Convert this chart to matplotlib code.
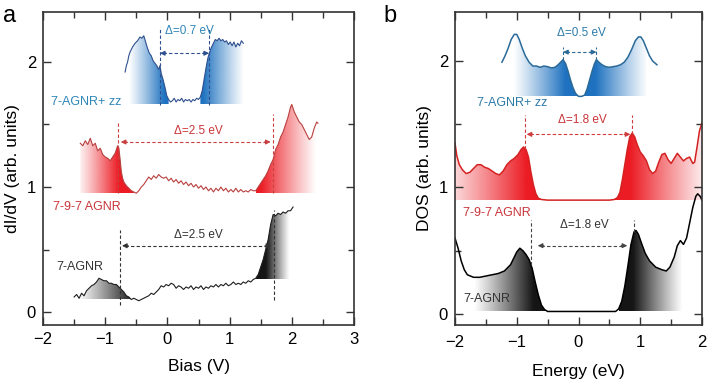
import numpy as np
import matplotlib
matplotlib.use("Agg")
import matplotlib.pyplot as plt
from matplotlib.patches import Polygon
from matplotlib.colors import to_rgb
from matplotlib.ticker import MultipleLocator

plt.rcParams['font.family'] = ['Liberation Sans', 'DejaVu Sans']

# ---------------- Panel a: experimental dI/dV ----------------
a_black_x = [-1.50, -1.46, -1.42, -1.38, -1.34, -1.30, -1.26, -1.22, -1.18, -1.14, -1.10, -1.06, -1.02, -0.98,
             -0.94, -0.90, -0.86, -0.82, -0.78, -0.74, -0.70, -0.66, -0.62, -0.58, -0.54, -0.50, -0.46, -0.42,
             -0.38, -0.34, -0.30, -0.26, -0.22, -0.18, -0.14, -0.10, -0.06, -0.02, 0.02, 0.06, 0.10, 0.14,
             0.18, 0.22, 0.26, 0.30, 0.34, 0.38, 0.42, 0.46, 0.50, 0.54, 0.58, 0.62, 0.66, 0.70, 0.74, 0.78,
             0.82, 0.86, 0.90, 0.94, 0.98, 1.02, 1.06, 1.10, 1.14, 1.18, 1.22, 1.26, 1.30, 1.34, 1.38, 1.42,
             1.46, 1.50, 1.54, 1.58, 1.62, 1.66, 1.70, 1.74, 1.78, 1.82, 1.86, 1.90, 1.94, 1.98, 2.02]
a_black_y = [0.12, 0.14, 0.11, 0.15, 0.13, 0.17, 0.19, 0.21, 0.22, 0.24, 0.27, 0.26, 0.25, 0.25,
             0.23, 0.23, 0.22, 0.22, 0.20, 0.18, 0.16, 0.13, 0.12, 0.10, 0.11, 0.10, 0.09, 0.10,
             0.11, 0.12, 0.13, 0.15, 0.14, 0.16, 0.18, 0.21, 0.20, 0.22, 0.21, 0.23, 0.22, 0.19,
             0.21, 0.20, 0.18, 0.20, 0.19, 0.21, 0.18, 0.20, 0.19, 0.21, 0.18, 0.20, 0.19, 0.21, 0.20, 0.22,
             0.20, 0.22, 0.21, 0.23, 0.21, 0.22, 0.24, 0.22, 0.23, 0.22, 0.24, 0.23, 0.25, 0.24, 0.26, 0.27,
             0.30, 0.36, 0.42, 0.50, 0.58, 0.70, 0.78, 0.77, 0.79, 0.78, 0.80, 0.79, 0.81, 0.81, 0.84]

a_red_x = [-1.40, -1.36, -1.32, -1.28, -1.24, -1.20, -1.16, -1.12, -1.08, -1.04, -1.00, -0.96, -0.92, -0.88,
           -0.84, -0.80, -0.78, -0.76, -0.74, -0.72, -0.70, -0.66, -0.62, -0.58, -0.54, -0.50, -0.46, -0.42,
           -0.38, -0.34, -0.30, -0.26, -0.22, -0.18, -0.14, -0.10, -0.06, -0.02, 0.02, 0.06, 0.10, 0.14,
           0.18, 0.22, 0.26, 0.30, 0.34, 0.38, 0.42, 0.46, 0.50, 0.54, 0.58, 0.62, 0.66, 0.70, 0.74, 0.78,
           0.82, 0.86, 0.90, 0.94, 0.98, 1.02, 1.06, 1.10, 1.14, 1.18, 1.22, 1.26, 1.30, 1.34, 1.38, 1.42,
           1.46, 1.50, 1.54, 1.58, 1.62, 1.66, 1.70, 1.74, 1.78, 1.82, 1.86, 1.90, 1.94, 1.98, 2.00, 2.04,
           2.08, 2.12, 2.16, 2.20, 2.24, 2.28, 2.32, 2.36, 2.40, 2.42]
a_red_y = [1.35, 1.33, 1.37, 1.34, 1.39, 1.33, 1.35, 1.29, 1.31, 1.26, 1.24, 1.23, 1.21, 1.24,
           1.27, 1.33, 1.31, 1.22, 1.12, 1.07, 1.04, 1.01, 0.99, 0.97, 0.96, 0.95, 0.97, 1.00,
           1.02, 1.05, 1.08, 1.06, 1.09, 1.07, 1.10, 1.08, 1.07, 1.08, 1.05, 1.07, 1.04, 1.06,
           1.03, 1.05, 1.02, 1.04, 1.01, 1.03, 1.00, 1.02, 0.99, 1.01, 0.98, 1.00, 0.97, 0.99, 0.96, 0.99,
           0.97, 1.00, 0.97, 0.99, 0.96, 0.98, 0.96, 0.99, 0.96, 0.98, 0.96, 0.97, 0.96, 0.98, 0.97, 0.97,
           1.00, 1.03, 1.06, 1.09, 1.13, 1.18, 1.22, 1.30, 1.34, 1.40, 1.44, 1.50, 1.56, 1.64, 1.66, 1.60,
           1.56, 1.52, 1.50, 1.46, 1.42, 1.38, 1.40, 1.47, 1.52, 1.51]

a_blue_x = [-0.68, -0.66, -0.64, -0.62, -0.60, -0.56, -0.52, -0.48, -0.44, -0.41, -0.38, -0.35, -0.32, -0.29,
            -0.26, -0.23, -0.20, -0.17, -0.14, -0.12, -0.10, -0.07, -0.04, -0.01, 0.02, 0.05, 0.08, 0.11,
            0.14, 0.17, 0.20, 0.23, 0.26, 0.29, 0.32, 0.35, 0.38, 0.41, 0.44, 0.47, 0.50, 0.53, 0.56, 0.59,
            0.62, 0.65, 0.68, 0.71, 0.74, 0.77, 0.80, 0.83, 0.86, 0.89, 0.92, 0.95, 0.98, 1.01, 1.04, 1.07,
            1.10, 1.13, 1.16, 1.19, 1.22]
a_blue_y = [1.92, 1.97, 2.00, 2.05, 2.08, 2.12, 2.15, 2.17, 2.20, 2.19, 2.21, 2.16, 2.11, 2.07,
            2.05, 2.01, 1.99, 1.97, 1.94, 1.97, 1.91, 1.86, 1.80, 1.73, 1.70, 1.68, 1.69, 1.71,
            1.68, 1.70, 1.69, 1.71, 1.68, 1.70, 1.69, 1.70, 1.68, 1.70, 1.69, 1.71, 1.70, 1.72, 1.77, 1.86,
            1.95, 2.03, 2.08, 2.12, 2.15, 2.18, 2.17, 2.19, 2.17, 2.18, 2.16, 2.17, 2.14, 2.16, 2.13, 2.16,
            2.12, 2.15, 2.13, 2.17, 2.15]

# ---------------- Panel b: calculated DOS ----------------
b_black_x = [-2.00, -1.95, -1.90, -1.85, -1.80, -1.70, -1.60, -1.50, -1.40, -1.30, -1.20, -1.10, -1.05, -1.00,
             -0.95, -0.90, -0.85, -0.80, -0.75, -0.70, -0.65, -0.60, -0.55, -0.50, -0.40, -0.20, 0.00, 0.20,
             0.40, 0.60, 0.65, 0.70, 0.75, 0.80, 0.85, 0.90, 0.93, 0.97, 1.02, 1.08, 1.15, 1.25, 1.35, 1.42,
             1.48, 1.55, 1.60, 1.65, 1.70, 1.75, 1.80, 1.85, 1.90, 1.93, 1.97, 2.00]
b_black_y = [0.60, 0.52, 0.42, 0.35, 0.31, 0.29, 0.29, 0.30, 0.31, 0.32, 0.34, 0.39, 0.44, 0.49,
             0.52, 0.50, 0.47, 0.43, 0.36, 0.25, 0.15, 0.07, 0.035, 0.02, 0.02, 0.02, 0.02, 0.02,
             0.02, 0.02, 0.04, 0.10, 0.22, 0.38, 0.55, 0.65, 0.66, 0.63, 0.56, 0.48, 0.42, 0.37, 0.35, 0.34,
             0.37, 0.45, 0.54, 0.58, 0.55, 0.60, 0.72, 0.84, 0.93, 0.95, 0.93, 0.90]

b_red_x = [-2.00, -1.97, -1.93, -1.88, -1.82, -1.76, -1.70, -1.64, -1.58, -1.52, -1.46, -1.40, -1.34, -1.28,
           -1.22, -1.16, -1.10, -1.04, -0.98, -0.93, -0.89, -0.85, -0.81, -0.77, -0.73, -0.69, -0.65, -0.60,
           -0.50, 0.00, 0.50, 0.58, 0.63, 0.67, 0.71, 0.75, 0.79, 0.83, 0.87, 0.91, 0.95, 1.00, 1.05, 1.10,
           1.15, 1.20, 1.25, 1.30, 1.35, 1.40, 1.45, 1.50, 1.55, 1.60, 1.65, 1.70, 1.75, 1.80, 1.85, 1.88,
           1.92, 1.96, 2.00]
b_red_y = [1.35, 1.25, 1.18, 1.14, 1.11, 1.12, 1.15, 1.18, 1.18, 1.16, 1.15, 1.13, 1.11, 1.10,
           1.13, 1.18, 1.21, 1.23, 1.26, 1.30, 1.32, 1.30, 1.24, 1.12, 1.02, 0.95, 0.915, 0.905,
           0.90, 0.90, 0.90, 0.905, 0.92, 0.96, 1.06, 1.18, 1.30, 1.40, 1.43, 1.40, 1.34, 1.28, 1.25, 1.21,
           1.14, 1.11, 1.13, 1.20, 1.26, 1.27, 1.22, 1.19, 1.23, 1.27, 1.24, 1.21, 1.23, 1.24, 1.19, 1.20,
           1.32, 1.45, 1.51]

b_blue_x = [-1.24, -1.19, -1.14, -1.09, -1.04, -1.00, -0.96, -0.91, -0.86, -0.80, -0.74, -0.68, -0.62, -0.56,
            -0.50, -0.44, -0.38, -0.33, -0.28, -0.25, -0.21, -0.17, -0.13, -0.09, -0.05, 0.00, 0.05, 0.10,
            0.14, 0.18, 0.22, 0.26, 0.29, 0.33, 0.38, 0.44, 0.50, 0.56, 0.62, 0.68, 0.74, 0.80, 0.86, 0.92,
            0.97, 1.01, 1.05, 1.10, 1.15, 1.20, 1.27]
b_blue_y = [1.99, 2.04, 2.10, 2.17, 2.21, 2.21, 2.17, 2.10, 2.04, 1.99, 1.96, 1.96, 1.95, 1.96,
            1.955, 1.945, 1.95, 1.97, 1.995, 2.01, 1.98, 1.92, 1.85, 1.79, 1.745, 1.72, 1.72, 1.73,
            1.78, 1.85, 1.92, 1.98, 2.01, 1.99, 1.97, 1.955, 1.95, 1.955, 1.96, 1.97, 1.99, 2.03, 2.09, 2.16,
            2.19, 2.19, 2.16, 2.10, 2.04, 2.00, 1.97]

# gap marker positions
a_gaps = {"black": (-0.77, 1.71), "red": (-0.79, 1.70), "blue": (-0.12, 0.67)}
b_gaps = {"black": (-0.77, 0.90), "red": (-0.86, 0.86), "blue": (-0.25, 0.29)}
a_gap_text = ["Δ=2.5 eV", "Δ=2.5 eV", "Δ=0.7 eV"]
b_gap_text = ["Δ=1.8 eV", "Δ=1.8 eV", "Δ=0.5 eV"]
names = ["7-AGNR", "7-9-7 AGNR", "7-AGNR+ zz"]

W, H = 711, 380
fig = plt.figure(figsize=(W / 100, H / 100), dpi=100)
axa = fig.add_axes([43 / W, 1 - 325 / H, (354 - 43) / W, (325 - 12) / H])
axb = fig.add_axes([455 / W, 1 - 325 / H, (702 - 455) / W, (325 - 12) / H])


def grad_fill(ax, x, y, xa, xb, base, x_light, x_dark, color, amax=1.0):
    x = np.asarray(x); y = np.asarray(y)
    m = (x >= xa) & (x <= xb)
    xs, ys = x[m], y[m]
    verts = [(xs[0], base)] + list(zip(xs, ys)) + [(xs[-1], base)]
    poly = Polygon(verts, closed=True, facecolor='none', edgecolor='none', transform=ax.transData)
    ax.add_patch(poly)
    n = 300
    gx = np.linspace(xs[0], xs[-1], n)
    t = np.clip((gx - x_light) / (x_dark - x_light), 0, 1)
    rgba = np.zeros((1, n, 4))
    rgba[..., :3] = to_rgb(color)
    rgba[..., 3] = t ** 1.1 * amax
    im = ax.imshow(rgba, extent=[xs[0], xs[-1], base, max(ys)], aspect='auto', origin='lower',
                   zorder=1, interpolation='bilinear')
    im.set_clip_path(poly)


def curve_at(x, y, xv):
    return float(np.interp(xv, x, y))


def gap_marker(ax, x, y, gl, gr, top_l, top_r, bot_l, bot_r, ya, color, text, tx, ty, tcolor, inset=0.0):
    ax.plot([gl, gl], [bot_l, top_l], color=color, lw=0.8, ls=(0, (3, 2)), zorder=3)
    ax.plot([gr, gr], [bot_r, top_r], color=color, lw=0.8, ls=(0, (3, 2)), zorder=3)
    x0, x1 = gl + inset, gr - inset
    ax.plot([x0 + 0.05, x1 - 0.05], [ya, ya], color=color, lw=0.8, ls=(0, (3, 2)), zorder=3)
    for xe, xs in ((x0, x0 + 0.1), (x1, x1 - 0.1)):
        ax.annotate('', xy=(xe, ya), xytext=(xs, ya),
                    arrowprops=dict(arrowstyle='-|>', color=color, lw=0.8, mutation_scale=7,
                                    shrinkA=0, shrinkB=0), zorder=3)
    ax.text(tx, ty, text, color=tcolor, fontsize=8.5, ha='center', va='center', zorder=4)


# ---------- panel a drawing ----------
c_blk, c_red_a, c_blu_a = '#1e1e1e', '#b8403f', '#2f4f8f'
f_blk, f_red, f_blu = '#151515', '#ec1c24', '#1f72c0'
t_red, t_blu = '#c9353b', '#2f86b8'

grad_fill(axa, a_black_x, a_black_y, -1.47, -0.52, 0.10, -1.45, -0.55, f_blk)
grad_fill(axa, a_black_x, a_black_y, 1.40, 2.02, 0.26, 1.95, 1.58, f_blk)
grad_fill(axa, a_red_x, a_red_y, -1.42, -0.52, 0.95, -1.45, -0.78, f_red)
grad_fill(axa, a_red_x, a_red_y, 1.40, 2.42, 0.95, 2.38, 1.50, f_red)
grad_fill(axa, a_blue_x, a_blue_y, -0.68, 0.03, 1.66, -0.62, -0.05, f_blu)
grad_fill(axa, a_blue_x, a_blue_y, 0.52, 1.22, 1.66, 1.24, 0.58, f_blu)

axa.plot(a_black_x, a_black_y, color=c_blk, lw=0.8, zorder=2)
axa.plot(a_red_x, a_red_y, color=c_red_a, lw=0.8, zorder=2)
axa.plot(a_blue_x, a_blue_y, color=c_blu_a, lw=0.8, zorder=2)

gl, gr = a_gaps["black"]
gap_marker(axa, a_black_x, a_black_y, gl, gr, 0.66, 0.82, 0.06, 0.10, 0.53, '#333333',
           a_gap_text[0], 0.50, 0.62, '#333333', inset=0.04)
gl, gr = a_gaps["red"]
gap_marker(axa, a_red_x, a_red_y, gl, gr, 1.52, 1.58, 0.95, 0.95, 1.36, '#c8403f',
           a_gap_text[1], 0.50, 1.45, t_red, inset=0.04)
gl, gr = a_gaps["blue"]
gap_marker(axa, a_blue_x, a_blue_y, gl, gr, 2.27, 2.27, 1.66, 1.66, 2.07, '#2f4f8f',
           a_gap_text[2], 0.35, 2.25, t_blu, inset=0.0)

axa.text(-1.79, 0.36, names[0], color='#333333', fontsize=9, ha='left', va='center')
axa.text(-1.84, 0.84, names[1], color=t_red, fontsize=9, ha='left', va='center')
axa.text(-1.87, 1.68, names[2], color=t_blu, fontsize=9, ha='left', va='center')

axa.set_xlim(-2, 3)
axa.set_ylim(-0.104, 2.4)
axa.set_xlabel('Bias (V)', fontsize=12.5, labelpad=9)
axa.set_ylabel('dI/dV (arb. units)', fontsize=12.5, labelpad=5)

# ---------- panel b drawing ----------
c_red_b, c_blu_b = '#d42222', '#2b6a98'
grad_fill(axb, b_black_x, b_black_y, -1.75, -0.50, 0.02, -1.70, -0.75, f_blk)
grad_fill(axb, b_black_x, b_black_y, 0.62, 1.70, 0.02, 1.68, 0.88, f_blk)
grad_fill(axb, b_red_x, b_red_y, -2.00, -0.60, 0.90, -2.30, -0.85, f_red)
grad_fill(axb, b_red_x, b_red_y, 0.58, 2.00, 0.90, 2.15, 0.85, f_red)
grad_fill(axb, b_blue_x, b_blue_y, -1.10, 0.02, 1.72, -1.05, -0.22, f_blu)
grad_fill(axb, b_blue_x, b_blue_y, 0.00, 1.12, 1.72, 1.12, 0.27, f_blu)

axb.plot(b_black_x, b_black_y, color='black', lw=1.1, zorder=2)
axb.plot(b_red_x, b_red_y, color=c_red_b, lw=1.1, zorder=2)
axb.plot(b_blue_x, b_blue_y, color=c_blu_b, lw=1.1, zorder=2)

gl, gr = b_gaps["black"]
gap_marker(axb, b_black_x, b_black_y, gl, gr, 0.74, 0.74, curve_at(b_black_x, b_black_y, gl),
           curve_at(b_black_x, b_black_y, gr), 0.54, '#444444', b_gap_text[0], 0.10, 0.70, '#333333',
           inset=0.11)
gl, gr = b_gaps["red"]
gap_marker(axb, b_red_x, b_red_y, gl, gr, 1.57, 1.57, curve_at(b_red_x, b_red_y, gl),
           curve_at(b_red_x, b_red_y, gr), 1.42, '#d03a3a', b_gap_text[1], 0.065, 1.53, t_red,
           inset=0.02)
gl, gr = b_gaps["blue"]
gap_marker(axb, b_blue_x, b_blue_y, gl, gr, 2.11, 2.11, curve_at(b_blue_x, b_blue_y, gl),
           curve_at(b_blue_x, b_blue_y, gr), 2.07, '#2b6a98', b_gap_text[2], 0.05, 2.22, '#2b7aa8',
           inset=0.0)

axb.text(-1.87, 0.12, names[0], color='#333333', fontsize=9, ha='left', va='center')
axb.text(-1.87, 0.80, names[1], color=t_red, fontsize=9, ha='left', va='center')
axb.text(-1.65, 1.67, names[2], color='#2b7aa8', fontsize=9, ha='left', va='center')

axb.set_xlim(-2, 2)
axb.set_ylim(-0.087, 2.387)
axb.set_xlabel('Energy (eV)', fontsize=12.5, labelpad=10)
axb.set_ylabel('DOS (arb. units)', fontsize=12.5, labelpad=5)

for ax, pad in ((axa, 5), (axb, 7)):
    ax.xaxis.set_major_locator(MultipleLocator(1))
    ax.xaxis.set_minor_locator(MultipleLocator(0.5))
    ax.yaxis.set_major_locator(MultipleLocator(1))
    ax.yaxis.set_minor_locator(MultipleLocator(0.5))
    ax.tick_params(which='both', direction='in', top=True, right=True, labelsize=12,
                   color='#333333', width=1.0)
    ax.tick_params(which='major', length=6)
    ax.tick_params(axis='x', which='major', pad=pad)
    ax.tick_params(axis='y', which='major', pad=5)
    ax.tick_params(which='minor', length=4)
    for s in ax.spines.values():
        s.set_linewidth(1.2)
        s.set_color('#333333')

fig.text(10 / W, 1 - 16 / H, 'a', fontsize=17, ha='center', va='center')
fig.text(390 / W, 1 - 16 / H, 'b', fontsize=17, ha='center', va='center')

fig.savefig('out.png', dpi=100)
